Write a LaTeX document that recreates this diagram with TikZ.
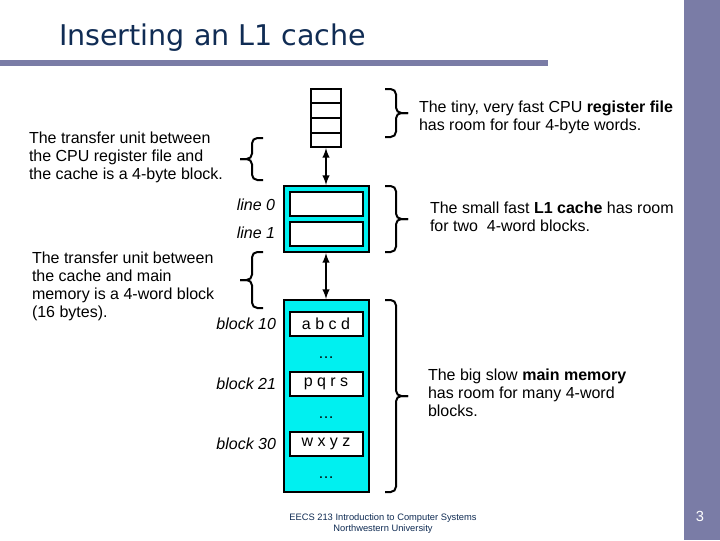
\documentclass[tikz,border=0pt]{standalone}
\usepackage{fontspec}
\setmainfont{Liberation Sans}
\newfontfamily\titlefont{DejaVu Sans}
\usepackage{xcolor}
\usepackage{tikz}
\usetikzlibrary{calc}
\definecolor{slidebar}{RGB}{122,124,166}
\definecolor{titleblue}{RGB}{16,44,84}
\definecolor{cachecyan}{RGB}{0,240,240}

\begin{document}
\begin{tikzpicture}[x=0.75pt, y=-0.75pt, line width=1.5pt, >=latex,
  every node/.style={font=\fontsize{12}{13.5}\selectfont},
  unitbox/.style={draw, fill=white, minimum width=54.75pt, minimum height=18pt, inner sep=0pt},
  outerbox/.style={draw, fill=cachecyan, minimum width=63.75pt, inner sep=0pt},
  note/.style={anchor=north west, align=left, inner sep=0pt},
  tag/.style={anchor=east, inner sep=0pt, font=\itshape\fontsize{12}{14}\selectfont},
  bracket/.style={rounded corners=4pt}]
  \fill[white] (0,0) rectangle (720,540);
  \useasboundingbox (0,0) rectangle (720,540);
  \fill[slidebar] (0,60) rectangle (548,66);
  \fill[slidebar] (684,0) rectangle (720,540);
  \node[anchor=base west, inner sep=0pt, text=titleblue, font=\titlefont\fontsize{21.4}{24}\selectfont] (title) at (58,45) {Inserting an L1 cache};

  \node[draw, minimum width=22.5pt, minimum height=43.5pt, inner sep=0pt] (reg) at (326,118) {};
  \foreach \i in {1,2,3}
    \draw ($(reg.north west)!\i/4!(reg.south west)$) -- ($(reg.north east)!\i/4!(reg.south east)$);

  \node[outerbox, minimum height=49.5pt] (l1) at (326,219) {};
  \node[unitbox] (line0) at (326,204) {};
  \node[unitbox] (line1) at (326,234) {};
  \node[tag] (line0tag) at (276,205) {line 0};
  \node[tag] (line1tag) at (276,233) {line 1};

  \node[outerbox, minimum height=144pt] (mem) at (326,396) {};
  \node[unitbox] (blk10) at (326,324) {a b c d};
  \node[unitbox] (blk21) at (326,384) {p q r s};
  \node[unitbox] (blk30) at (326,444) {w x y z};
  \foreach \y/\n in {358/a, 418/b, 478/c}
    \node[inner sep=0pt] (dots\n) at (326,\y) {\dots};
  \node[tag] (blk10tag) at (277,324) {block 10};
  \node[tag] (blk21tag) at (277,384) {block 21};
  \node[tag] (blk30tag) at (277,444) {block 30};

  \draw[<->] (reg.south) -- (l1.north);
  \draw[<->] (l1.south) -- (mem.north);

  \foreach \x/\top/\bot/\d in {385/89/137/1, 385/186/252/1, 385/300/492/1, 263/138/180/-1, 263/252/308/-1} {
    \pgfmathsetmacro\mid{(\top+\bot)/2}
    \draw[bracket] (\x,\top) -- ++(11*\d,0) |- (\x+23*\d,\mid);
    \draw[bracket] (\x,\bot) -- ++(11*\d,0) |- (\x+23*\d,\mid);
  }

  \node[note] (regnote) at (418,100) {\baselineskip=14.25pt The tiny, very fast CPU \textbf{register file}\\has room for four 4-byte words.};
  \node[note] (l1note) at (429,201) {\baselineskip=15pt The small fast \textbf{L1 cache} has room\\for two\ \ 4-word blocks.};
  \node[note] (memnote) at (427,368) {\baselineskip=14.25pt The big slow \textbf{main memory}\\has room for many 4-word\\blocks.};
  \node[note] (upnote) at (28,131) {The transfer unit between\\the CPU register file and\\the cache is a 4-byte block.};
  \node[note] (downnote) at (31,251) {\baselineskip=14.6pt The transfer unit between\\the cache and main\\memory is a 4-word block\\(16 bytes).};

  \node[align=center, text=titleblue, font=\fontsize{7}{8.25}\selectfont] (footer) at (383,524) {EECS 213 Introduction to Computer Systems\\Northwestern University};
  \node[text=white, font=\fontsize{11}{13}\selectfont] (pageno) at (700,516) {3};
\end{tikzpicture}
\end{document}
